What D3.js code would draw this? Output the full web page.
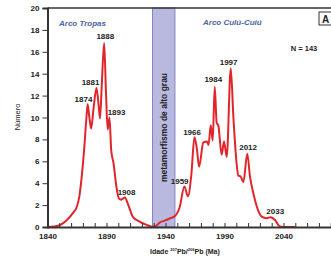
<!DOCTYPE html>
<html>
<head>
<meta charset="utf-8">
<script src="https://cdn.jsdelivr.net/npm/d3@7"></script>
<style>
  body { margin: 0; background: #fff; }
  svg { display: block; font-family: "Liberation Sans", Arial, sans-serif; }
</style>
</head>
<body>
<svg id="chart" width="331" height="257"></svg>
<script>
// Age (Ma) and count along the probability curve
const ages = [1840, 1846, 1851, 1856, 1861, 1865, 1867, 1869, 1871, 1873, 1874, 1875.5, 1877, 1879, 1881.5,
  1883, 1884.5, 1886, 1888, 1889.5, 1891, 1892.5, 1894, 1896, 1898.5, 1900.5, 1902.5, 1905.5, 1908.5,
  1912.5, 1918, 1924, 1929, 1932, 1935, 1940, 1944, 1948, 1952, 1956, 1959, 1962, 1964.5, 1966.5,
  1968.5, 1972, 1975, 1976.5, 1978.3, 1980, 1981.7, 1983.4, 1984.7, 1987.6, 1989.6, 1991.9, 1995.3,
  1997.5, 1999.7, 2001.7, 2003.7, 2006, 2009.3, 2011.6, 2014.4, 2017.3, 2021.5, 2025.8, 2029, 2032.8,
  2037, 2042, 2050];
const counts = [0, 0.05, 0.2, 0.6, 1.2, 1.9, 2.8, 4.6, 7.0, 10.0, 11.2, 10.0, 9.0, 10.8, 12.7,
  11.5, 9.9, 13.0, 16.8, 12.5, 8.9, 10.0, 7.0, 5.8, 3.6, 2.6, 2.5, 2.7, 2.0,
  0.9, 0.5, 0.2, 0.02, 0.1, 0.4, 0.6, 0.8, 1.0, 1.8, 3.7, 2.8, 4.9, 8.2, 7.2,
  5.5, 7.7, 7.8, 7.5, 9.3, 7.9, 12.8, 9.5, 9.3, 6.6, 7.8, 6.4, 14.5,
  10.1, 6.5, 4.7, 4.6, 4.1, 6.7, 4.6, 3.1, 1.9, 0.95, 0.8, 0.9, 0.64,
  0.05, 0, 0];

// Peak labels
const peakNames = ["1874", "1881", "1888", "1893", "1908", "1959", "1966", "1984", "1997", "2012", "2033"];
const peakAges = [1870.5, 1876.5, 1889, 1898.5, 1907, 1952, 1962.5, 1980.5, 1993.5, 2010, 2033];
const peakCounts = [11.4, 13, 17.2, 10.2, 2.9, 3.9, 8.4, 13.2, 14.8, 7.0, 1.15];

const bandRange = [1929, 1948];
const bandText = "metamorfismo de alto grau";
const yTicks = [0, 2, 4, 6, 8, 10, 12, 14, 16, 18, 20];
const xTickLabels = [1840, 1890, 1940, 1990, 2040];

const svg = d3.select("#chart");
const x = d3.scaleLinear().domain([1840, 2090]).range([47.5, 342.5]);
const y = d3.scaleLinear().domain([0, 20]).range([227, 8]);

// band
svg.append("rect")
  .attr("x", x(bandRange[0])).attr("y", y(20))
  .attr("width", x(bandRange[1]) - x(bandRange[0]))
  .attr("height", y(0) - y(20))
  .attr("fill", "#b9b9e0").attr("stroke", "#8484c4").attr("stroke-width", 1);

svg.append("text")
  .attr("transform", `translate(${(x(bandRange[0]) + x(bandRange[1])) / 2 + 3},${(y(0) + y(20)) / 2 + 10}) rotate(-90)`)
  .attr("text-anchor", "middle")
  .attr("font-size", 8.5).attr("font-weight", "bold").attr("fill", "#222")
  .text(bandText);

// curve
const pts = ages.map((a, i) => [a, counts[i]]);
svg.append("path")
  .datum(pts)
  .attr("d", d3.line().x(d => x(d[0])).y(d => y(d[1])).curve(d3.curveMonotoneX))
  .attr("fill", "none").attr("stroke", "#e0262b").attr("stroke-width", 2);

// frame: top line
svg.append("line")
  .attr("x1", x(1840)).attr("x2", 331).attr("y1", y(20)).attr("y2", y(20))
  .attr("stroke", "#333").attr("stroke-width", 1.5);

// y axis
const yAxis = svg.append("g").attr("transform", `translate(${x(1840)},0)`)
  .call(d3.axisLeft(y).tickValues(yTicks).tickSize(5).tickPadding(3));
yAxis.select(".domain").attr("stroke", "#333").attr("stroke-width", 2);
yAxis.selectAll(".tick line").attr("stroke", "#333");
yAxis.selectAll("text").attr("font-size", 8).attr("font-weight", "bold").attr("fill", "#222")
  .attr("font-family", "Liberation Sans, Arial, sans-serif");

// x axis
const xAxis = svg.append("g").attr("transform", `translate(0,${y(0)})`)
  .call(d3.axisBottom(x).tickValues(d3.range(1840, 2091, 10)).tickSize(-4)
    .tickFormat(d => xTickLabels.includes(d) ? d : "").tickPadding(6));
xAxis.select(".domain").attr("stroke", "#333").attr("stroke-width", 2);
xAxis.selectAll(".tick line").attr("stroke", "#333");
xAxis.selectAll("text").attr("font-size", 8).attr("font-weight", "bold").attr("fill", "#222")
  .attr("font-family", "Liberation Sans, Arial, sans-serif");

// axis titles
svg.append("text")
  .attr("transform", "translate(20,117) rotate(-90)")
  .attr("text-anchor", "middle").attr("font-size", 7.5).attr("fill", "#222")
  .text("Número");

const xt = svg.append("text").attr("x", 150).attr("y", 254)
  .attr("font-size", 7).attr("font-weight", "bold").attr("fill", "#222");
xt.append("tspan").text("Idade ");
xt.append("tspan").attr("font-size", 4).attr("dy", -3).text("207");
xt.append("tspan").attr("dy", 3).text("Pb/");
xt.append("tspan").attr("font-size", 4).attr("dy", -3).text("206");
xt.append("tspan").attr("dy", 3).text("Pb (Ma)");

// peak labels
svg.selectAll("text.peak")
  .data(peakNames)
  .join("text")
  .attr("class", "peak")
  .attr("x", (d, i) => x(peakAges[i]))
  .attr("y", (d, i) => y(peakCounts[i]))
  .attr("text-anchor", "middle")
  .attr("font-size", 8).attr("font-weight", "bold").attr("fill", "#222")
  .text(d => d);

// annotations
svg.append("text").attr("x", 59).attr("y", 26)
  .attr("font-size", 8).attr("font-style", "italic").attr("font-weight", "bold").attr("fill", "#4a64a0")
  .text("Arco Tropas");
svg.append("text").attr("x", 203).attr("y", 25)
  .attr("font-size", 8).attr("font-style", "italic").attr("font-weight", "bold").attr("fill", "#4a64a0")
  .text("Arco Culú-Cuiú");
svg.append("text").attr("x", 304).attr("y", 51)
  .attr("text-anchor", "middle")
  .attr("font-size", 7.5).attr("font-weight", "bold").attr("fill", "#222")
  .text("N = 143");

svg.append("rect").attr("x", 319).attr("y", 12).attr("width", 14).attr("height", 13)
  .attr("fill", "#fff").attr("stroke", "#333").attr("stroke-width", 1);
svg.append("text").attr("x", 322).attr("y", 22.5)
  .attr("font-size", 10).attr("font-weight", "bold").attr("fill", "#222")
  .text("A");
</script>
</body>
</html>
